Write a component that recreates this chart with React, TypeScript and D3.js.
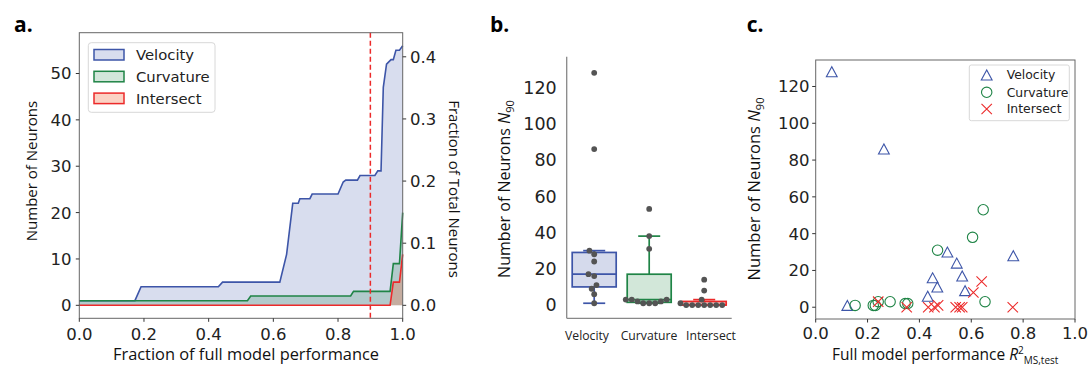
import React from "react";
import * as d3 from "d3";

// ---------- DATA ----------
// Panel a: cumulative neuron counts vs fraction of full model performance
const velocityCurve: [number, number][] = [
  [0, 1], [0.172, 1], [0.191, 4], [0.43, 4], [0.443, 5], [0.62, 5], [0.641, 11], [0.66, 22],
  [0.677, 22], [0.682, 23], [0.713, 23], [0.72, 24], [0.8, 24], [0.816, 26.6], [0.824, 27],
  [0.86, 27], [0.868, 28], [0.914, 28], [0.923, 29], [0.933, 29], [0.94, 47], [0.95, 52],
  [0.964, 53], [0.971, 53], [0.979, 55], [0.99, 55], [1.0, 56],
];
const curvatureCurve: [number, number][] = [
  [0, 1], [0.52, 1], [0.53, 2], [0.839, 2], [0.848, 3], [0.961, 3], [0.971, 9], [0.99, 9], [1.0, 20],
];
const intersectCurve: [number, number][] = [
  [0, 0], [0.961, 0], [0.971, 5], [0.99, 5], [1.0, 11],
];
const totalNeurons = 134;
const threshold = 0.9;
const aXTicks = [0, 0.2, 0.4, 0.6, 0.8, 1.0];
const aYTicks = [0, 10, 20, 30, 40, 50];
const aY2Ticks = [0, 0.1, 0.2, 0.3, 0.4];

// Panels b & c: per-dataset N90 and full-model R2
const categories = ["Velocity", "Curvature", "Intersect"];
const velocityN90 = [128, 86, 30, 28, 24, 17, 16, 11, 9, 6, 1];
const velocityR2 = [0.062, 0.263, 0.508, 0.762, 0.544, 0.565, 0.451, 0.469, 0.576, 0.432, 0.122];
const curvatureN90 = [53, 38, 31, 3, 3, 3, 2, 2, 1, 1, 1];
const curvatureR2 = [0.646, 0.605, 0.47, 0.653, 0.287, 0.241, 0.345, 0.355, 0.152, 0.222, 0.23];
const intersectN90 = [14, 8, 3, 1, 0, 0, 0, 0, 0, 0, 0];
const intersectR2 = [0.64, 0.608, 0.241, 0.472, 0.351, 0.434, 0.458, 0.54, 0.555, 0.565, 0.76];
const bYTicks = [0, 20, 40, 60, 80, 100, 120];
const cXTicks = [0, 0.2, 0.4, 0.6, 0.8, 1.0];
const cYTicks = [0, 20, 40, 60, 80, 100, 120];

// ---------- STYLE ----------
const BLUE = "#3d55a8";
const GREEN = "#1f8446";
const RED = "#ec2a2a";
const SALMON = "#f26b3a";
const TICKFONT = "DejaVu Sans";
const LABELFONT = "'Open Sans', sans-serif";
const SPINE = "#666";

function swarm(values: number[], y: (v: number) => number, d: number) {
  const idx = values.map((v, i) => i).sort((a, b) => values[a] - values[b]);
  const placed: { off: number; y: number; i: number }[] = [];
  for (const i of idx) {
    const py = y(values[i]);
    const lefts: number[] = [];
    const rights: number[] = [];
    for (const p of placed) {
      const dy = Math.abs(p.y - py);
      if (dy < d) {
        const dx = Math.sqrt(d * d - dy * dy);
        lefts.push(p.off - dx);
        rights.push(p.off + dx);
      }
    }
    const all = [0].concat(lefts, rights).map((c, k) => ({ c, k }));
    all.sort((a, b) => Math.abs(a.c) - Math.abs(b.c) || a.k - b.k);
    let chosen = 0;
    for (const { c } of all) {
      const ok = placed.every((q) => (c - q.off) ** 2 + (py - q.y) ** 2 >= d * d - 0.01);
      if (ok) { chosen = c; break; }
    }
    placed.push({ off: chosen, y: py, i });
  }
  return placed;
}

export default function App() {
  // ---- Panel a scales
  const ax = d3.scaleLinear().domain([0, 1]).range([79.3, 402.7]);
  const ay = d3.scaleLinear().domain([-2.8, 58.8]).range([318.3, 32.7]);
  const ay2 = d3.scaleLinear().domain([-2.8 / totalNeurons, 58.8 / totalNeurons]).range([318.3, 32.7]);
  const area = d3.area<[number, number]>().x((d) => ax(d[0])).y0(ay(0)).y1((d) => ay(d[1]));
  const line = d3.line<[number, number]>().x((d) => ax(d[0])).y((d) => ay(d[1]));
  const seriesA = [
    { name: "Velocity", data: velocityCurve, stroke: BLUE, fill: BLUE, op: 0.2 },
    { name: "Curvature", data: curvatureCurve, stroke: GREEN, fill: GREEN, op: 0.2 },
    { name: "Intersect", data: intersectCurve, stroke: RED, fill: SALMON, op: 0.3 },
  ];

  // ---- Panel b scales
  const bx = d3.scaleBand().domain(categories).range([566.7, 731.7]);
  const bLabelX = d3.scalePoint().domain(categories).range([587, 711]);
  const by = d3.scaleLinear().domain([-7.3, 136.9]).range([318.3, 56.7]);
  const bSeries = [
    { name: "Velocity", vals: velocityN90, stroke: BLUE, fill: "#d5daec" },
    { name: "Curvature", vals: curvatureN90, stroke: GREEN, fill: "#d2e7d9" },
    { name: "Intersect", vals: intersectN90, stroke: RED, fill: "#f7c4bf" },
  ];

  // ---- Panel c scales
  const cx = d3.scaleLinear().domain([0, 1]).range([815.7, 1075]);
  const cy = d3.scaleLinear().domain([-6.4, 134.4]).range([319, 60]);

  const tri = (x: number, y: number, w = 10.8, h = 10) =>
    `M${x},${y - h / 2}L${x - w / 2},${y + h / 2}L${x + w / 2},${y + h / 2}Z`;
  const cross = (x: number, y: number, s = 5.2) =>
    `M${x - s},${y - s}L${x + s},${y + s}M${x - s},${y + s}L${x + s},${y - s}`;

  return (
    <svg width={1091} height={369} style={{ position: "absolute", left: 0, top: 0, background: "#fff" }}>
      {/* ================= Panel a ================= */}
      <text x={14} y={31.5} fontFamily={LABELFONT} fontWeight={700} fontSize={21}>a.</text>
      {seriesA.map((s) => (
        <g key={s.name}>
          <path d={area(s.data) || ""} fill={s.fill} fillOpacity={s.op} />
          <path d={line(s.data) || ""} fill="none" stroke={s.stroke} strokeWidth={1.6} />
        </g>
      ))}
      <line x1={ax(threshold)} x2={ax(threshold)} y1={32.7} y2={318.3} stroke={RED} strokeWidth={1.5} strokeDasharray="5,3" />
      <rect x={79.3} y={32.7} width={323.4} height={285.6} fill="none" stroke={SPINE} strokeWidth={1} />
      {aXTicks.map((t) => (
        <g key={"ax" + t}>
          <line x1={ax(t)} x2={ax(t)} y1={318.3} y2={321.8} stroke="#333" />
          <text x={ax(t)} y={339.5} textAnchor="middle" fontFamily={TICKFONT} fontSize={16.5} fill="#222">{t.toFixed(1)}</text>
        </g>
      ))}
      {aYTicks.map((t) => (
        <g key={"ay" + t}>
          <line x1={75.8} x2={79.3} y1={ay(t)} y2={ay(t)} stroke="#333" />
          <text x={71.5} y={ay(t)} dy="0.36em" textAnchor="end" fontFamily={TICKFONT} fontSize={16.5} fill="#222">{t}</text>
        </g>
      ))}
      {aY2Ticks.map((t) => (
        <g key={"ay2" + t}>
          <line x1={402.7} x2={406.2} y1={ay2(t)} y2={ay2(t)} stroke="#333" />
          <text x={410} y={ay2(t)} dy="0.36em" textAnchor="start" fontFamily={TICKFONT} fontSize={16.5} fill="#222">{t.toFixed(1)}</text>
        </g>
      ))}
      <text x={246} y={359.5} textAnchor="middle" fontFamily={LABELFONT} fontSize={16.4} fill="#111">Fraction of full model performance</text>
      <text transform={`translate(37,171) rotate(-90)`} textAnchor="middle" fontFamily={LABELFONT} fontSize={15} fill="#111">Number of Neurons</text>
      <text transform={`translate(449,189) rotate(90)`} textAnchor="middle" fontFamily={LABELFONT} fontSize={15} fill="#111">Fraction of Total Neurons</text>
      {/* legend a */}
      <rect x={88.3} y={42.7} width={126.7} height={69.6} rx={3} fill="#fff" fillOpacity={0.85} stroke="#d8d8d8" />
      {seriesA.map((s, i) => (
        <g key={"leg" + s.name}>
          <rect x={94} y={49.5 + i * 21.8} width={30} height={10.5} fill="#fff" />
          <rect x={94} y={49.5 + i * 21.8} width={30} height={10.5} fill={s.fill} fillOpacity={s.op} stroke={s.stroke} strokeWidth={1.5} />
          <text x={136} y={54.7 + i * 21.8} dy="0.36em" fontFamily={TICKFONT} fontSize={14.8} fill="#222">{s.name}</text>
        </g>
      ))}

      {/* ================= Panel b ================= */}
      <text x={490} y={31.5} fontFamily={LABELFONT} fontWeight={700} fontSize={21}>b.</text>
      {bSeries.map((s) => {
        const sorted = [...s.vals].sort((a, b) => a - b);
        const q1 = d3.quantile(sorted, 0.25)!;
        const med = d3.quantile(sorted, 0.5)!;
        const q3 = d3.quantile(sorted, 0.75)!;
        const iqr = q3 - q1;
        const hi = d3.max(sorted.filter((v) => v <= q3 + 1.5 * iqr))!;
        const lo = d3.min(sorted.filter((v) => v >= q1 - 1.5 * iqr))!;
        const bw = bx.bandwidth() * 0.8;
        const c = bx(s.name)! + bx.bandwidth() / 2;
        const pts = swarm(s.vals, (v) => by(v), 6);
        return (
          <g key={"b" + s.name}>
            <line x1={c} x2={c} y1={by(q3)} y2={by(hi)} stroke={s.stroke} strokeWidth={1.7} />
            <line x1={c} x2={c} y1={by(q1)} y2={by(lo)} stroke={s.stroke} strokeWidth={1.7} />
            <line x1={c - bw / 4} x2={c + bw / 4} y1={by(hi)} y2={by(hi)} stroke={s.stroke} strokeWidth={1.7} />
            <line x1={c - bw / 4} x2={c + bw / 4} y1={by(lo)} y2={by(lo)} stroke={s.stroke} strokeWidth={1.7} />
            <rect x={c - bw / 2} y={by(q3)} width={bw} height={by(q1) - by(q3)} fill={s.fill} stroke={s.stroke} strokeWidth={1.7} />
            <line x1={c - bw / 2} x2={c + bw / 2} y1={by(med)} y2={by(med)} stroke={s.stroke} strokeWidth={1.7} />
            {pts.map((p) => (
              <circle key={p.i} cx={c + p.off} cy={p.y} r={2.9} fill="#545454" />
            ))}
            <text x={bLabelX(s.name)} y={339.5} textAnchor="middle" fontFamily={LABELFONT} fontSize={12.2} fill="#222">{s.name}</text>
          </g>
        );
      })}
      <line x1={566.7} x2={566.7} y1={56.7} y2={318.3} stroke="#888" strokeWidth={1.3} />
      <line x1={566.7} x2={731.7} y1={318.3} y2={318.3} stroke="#888" strokeWidth={1.3} />
      {bYTicks.map((t) => (
        <text key={"by" + t} x={556.7} y={by(t)} dy="0.36em" textAnchor="end" fontFamily={TICKFONT} fontSize={17.5} fill="#222">{t}</text>
      ))}
      <text transform={`translate(510,189) rotate(-90)`} textAnchor="middle" fontFamily={LABELFONT} fontSize={16} fill="#111">
        Number of Neurons <tspan fontStyle="italic">N</tspan><tspan fontSize={11} dy={4}>90</tspan>
      </text>

      {/* ================= Panel c ================= */}
      <text x={746.7} y={31.5} fontFamily={LABELFONT} fontWeight={700} fontSize={21}>c.</text>
      {velocityN90.map((v, i) => (
        <path key={"cv" + i} d={tri(cx(velocityR2[i]), cy(v))} fill="none" stroke={BLUE} strokeWidth={1.1} />
      ))}
      {curvatureN90.map((v, i) => (
        <circle key={"cc" + i} cx={cx(curvatureR2[i])} cy={cy(v)} r={5.2} fill="none" stroke={GREEN} strokeWidth={1.1} />
      ))}
      {intersectN90.map((v, i) => (
        <path key={"ci" + i} d={cross(cx(intersectR2[i]), cy(v))} fill="none" stroke={RED} strokeWidth={1.1} />
      ))}
      <rect x={815.7} y={60} width={259.3} height={259} fill="none" stroke={SPINE} strokeWidth={1} />
      {cXTicks.map((t) => (
        <g key={"cx" + t}>
          <line x1={cx(t)} x2={cx(t)} y1={319} y2={322.5} stroke="#333" />
          <text x={cx(t)} y={339} textAnchor="middle" fontFamily={TICKFONT} fontSize={16.5} fill="#222">{t.toFixed(1)}</text>
        </g>
      ))}
      {cYTicks.map((t) => (
        <g key={"cy" + t}>
          <line x1={812.2} x2={815.7} y1={cy(t)} y2={cy(t)} stroke="#333" />
          <text x={809.5} y={cy(t)} dy="0.36em" textAnchor="end" fontFamily={TICKFONT} fontSize={16.5} fill="#222">{t}</text>
        </g>
      ))}
      <text x={832} y={359.5} fontFamily={LABELFONT} fontSize={15.5} fill="#111">
        Full model performance <tspan fontStyle="italic">R</tspan><tspan fontSize={10} dy={-6}>2</tspan><tspan fontSize={10} dy={10.5}>MS,test</tspan>
      </text>
      <text transform={`translate(760,189) rotate(-90)`} textAnchor="middle" fontFamily={LABELFONT} fontSize={16.5} fill="#111">
        Number of Neurons <tspan fontStyle="italic">N</tspan><tspan fontSize={11} dy={4}>90</tspan>
      </text>
      {/* legend c */}
      <rect x={969.3} y={65} width={100} height={55.7} rx={2} fill="#fff" fillOpacity={0.85} stroke="#d8d8d8" />
      <path d={tri(986.7, 75)} fill="none" stroke={BLUE} strokeWidth={1.1} />
      <circle cx={986.7} cy={92.3} r={5.2} fill="none" stroke={GREEN} strokeWidth={1.1} />
      <path d={cross(986.7, 109)} fill="none" stroke={RED} strokeWidth={1.1} />
      {categories.map((c, i) => (
        <text key={"lc" + c} x={1006.7} y={[75, 92.3, 109][i]} dy="0.36em" fontFamily={TICKFONT} fontSize={12.4} fill="#222">{c}</text>
      ))}
    </svg>
  );
}
